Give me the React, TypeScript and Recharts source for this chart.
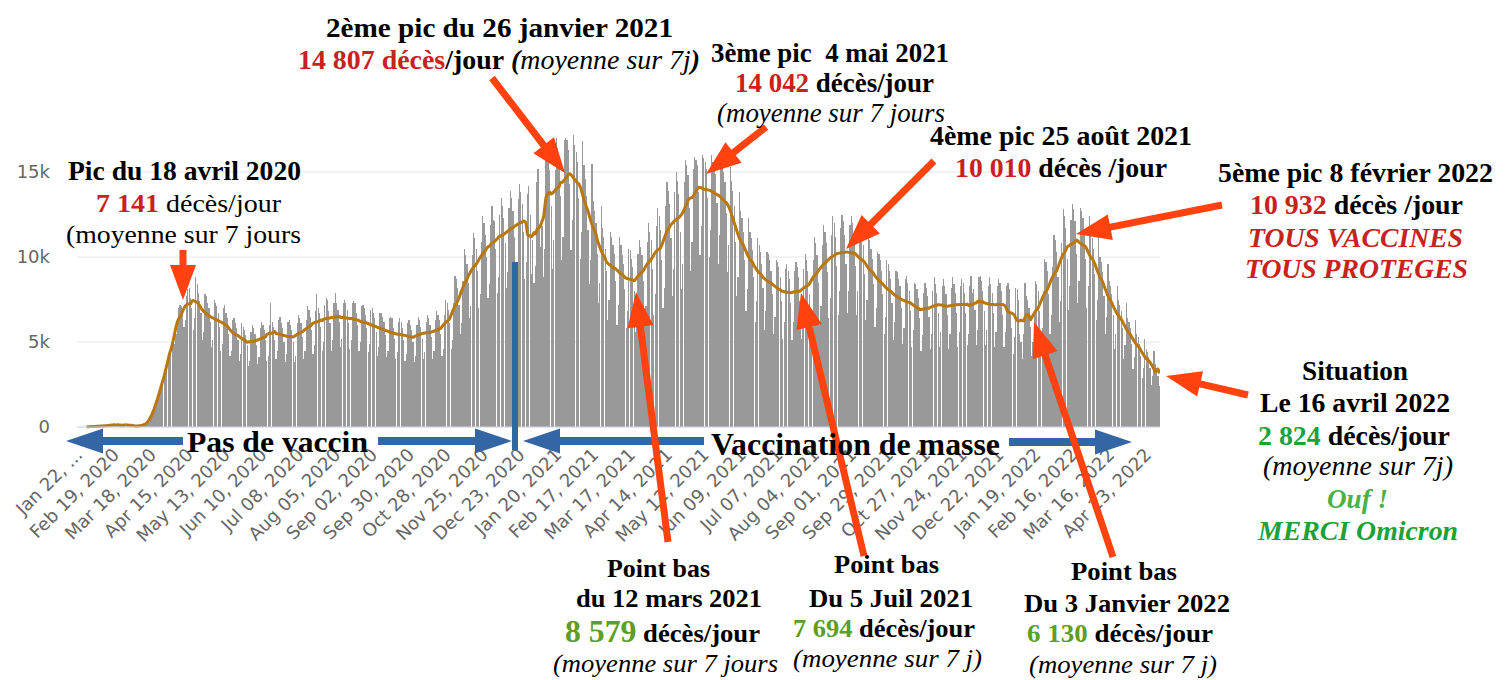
import React from 'react';
import { ComposedChart, Bar, Line, XAxis, YAxis, CartesianGrid } from 'recharts';

// daily deaths worldwide, one row per week (Wed..Tue), starting Jan 22, 2020
const deathsWave1 = [
  20, 10, 20, 20, 30, 30, 30,
  40, 40, 50, 50, 60, 60, 70,
  70, 70, 90, 90, 100, 110, 100,
  250, 20, 140, 140, 110, 100, 140,
  120, 120, 10, 200, 150, 150, 70,
  60, 40, 50, 70, 50, 70, 70,
  90, 110, 120, 150, 200, 300, 350,
  600, 800, 1000, 1200, 1400, 1600, 2000,
  2200, 2500, 2800, 3000, 3300, 3500, 3900,
  4400, 4700, 5100, 5300, 4900, 5500, 6300,
  7000, 7200, 7100, 6600, 5900, 6300, 7700,
  8100, 8200, 7600, 7000, 5700, 6400, 8800,
  8400, 7900, 7400, 6700, 5100, 5600, 7800,
  7700, 7300, 7000, 6200, 4700, 5100, 7500,
  7300, 7100, 6700, 5900, 4500, 4900, 7000,
  7200, 6700, 6400, 5500, 4200, 4500, 6300,
  6400, 6100, 5800, 5100, 3900, 4300, 6100,
  5900, 5700, 5400, 4800, 3600, 3900, 5600,
  6000, 5800, 5500, 4800, 3700, 4100, 5800,
  6200, 6000, 5700, 5100, 3900, 4200, 6000,
];

const deathsSummer2020 = [
  7300, 6200, 5900, 5100, 4000, 4500, 6300,
  6500, 6100, 5800, 5000, 3800, 4300, 6200,
  6300, 6000, 5700, 5000, 3800, 4200, 6100,
  6600, 6400, 6100, 5300, 4000, 4500, 6300,
  7100, 6900, 6500, 5700, 4300, 4800, 6800,
  7800, 7000, 6700, 5900, 4500, 5000, 7200,
  7600, 7500, 6800, 6100, 4500, 5100, 7300,
  7900, 7300, 6900, 6200, 4700, 5200, 7300,
  7500, 7300, 6900, 6100, 4600, 5100, 7300,
  7400, 7300, 6700, 6000, 4500, 5000, 7100,
  7200, 7000, 6600, 5800, 4400, 4900, 6900,
  7000, 6700, 6400, 5600, 4200, 4700, 6700,
  6700, 6500, 6200, 5400, 4100, 4500, 6400,
  6500, 6400, 5800, 5200, 4000, 4400, 6200,
  6400, 6200, 5800, 5100, 3900, 4300, 6100,
  6300, 6000, 5700, 5000, 3800, 4200, 6000,
  6500, 6300, 5900, 5200, 4000, 4400, 6200,
  6600, 6400, 6000, 5300, 4000, 4500, 6300,
  6800, 6600, 6300, 5500, 4200, 4600, 6600,
  7500, 7300, 6900, 6100, 4600, 5100, 7300,
];

const deathsWinter2021 = [
  8900, 8700, 8200, 7200, 5500, 6100, 8600,
  10500, 10100, 9600, 8500, 6400, 7100, 10100,
  11400, 11100, 10500, 9200, 7000, 7800, 10900,
  12400, 12000, 11300, 10000, 7600, 8400, 11900,
  13000, 12200, 12100, 10500, 7900, 8800, 12500,
  13500, 13000, 12300, 10800, 8200, 9100, 12900,
  13900, 13500, 12700, 11200, 8500, 9400, 13400,
  14300, 13800, 13100, 11500, 8700, 9700, 13700,
  14200, 12500, 9000, 11000, 8500, 9500, 14400,
  15200, 11900, 10600, 11800, 8800, 10500, 15900,
  16600, 15800, 15100, 13000, 9300, 11000, 15100,
  17000, 16400, 15800, 13600, 9800, 11200, 16900,
  17000, 16900, 16300, 14300, 10400, 12200, 17200,
  16600, 16200, 15600, 13500, 9900, 11500, 16800,
  15400, 14600, 13600, 11600, 8400, 9800, 15500,
  13300, 12700, 12000, 10200, 7300, 8500, 13000,
  11700, 11200, 10500, 9200, 6300, 7500, 11500,
  11200, 10700, 10200, 8600, 6000, 7200, 11200,
  10700, 10100, 9600, 8100, 5800, 6800, 10500,
  10400, 9900, 9400, 8000, 5600, 6700, 10200,
];

const deathsSpring2021 = [
  11000, 10600, 10100, 8600, 6100, 7100, 10900,
  12000, 11500, 11000, 9300, 6600, 7800, 11800,
  12900, 12400, 11600, 9800, 7000, 8200, 13000,
  14400, 13900, 13100, 11100, 7700, 9300, 13800,
  15000, 14500, 13700, 11500, 8100, 9600, 14400,
  15700, 15400, 14800, 12900, 9200, 10900, 15200,
  15900, 15700, 15400, 13800, 10100, 11800, 16000,
  15800, 15600, 15200, 13500, 10000, 11600, 16000,
  15600, 15400, 14900, 13200, 9600, 11300, 15700,
  15300, 15000, 14400, 12600, 9100, 10700, 15300,
  14500, 13900, 13000, 10900, 7700, 8800, 13800,
  12700, 12300, 11500, 9800, 6800, 8100, 12300,
  11500, 11100, 10400, 8800, 6200, 7400, 11100,
  10700, 10300, 9600, 8200, 5700, 6800, 10300,
  10200, 9800, 9200, 7800, 5500, 6500, 9800,
  9700, 9400, 8800, 7400, 5200, 6200, 9300,
  9600, 9200, 8700, 7300, 5100, 6200, 9200,
  9700, 9400, 8800, 7400, 5200, 6200, 9300,
  10200, 9800, 9200, 7800, 5500, 6500, 9800,
  11200, 10800, 10100, 8500, 6000, 7100, 10700,
];

const deathsAutumn2021 = [
  11900, 11500, 10800, 9100, 6400, 7600, 11300,
  12400, 12000, 11200, 9500, 6600, 8000, 11700,
  12500, 12100, 11300, 9600, 6700, 8000, 11900,
  12400, 12000, 11200, 9500, 6600, 8000, 11700,
  11800, 11400, 10700, 9000, 6300, 7500, 11200,
  11000, 10500, 9900, 8400, 5900, 7000, 10300,
  10200, 9800, 9200, 7800, 5500, 6500, 9800,
  9600, 9200, 8700, 7300, 5100, 6200, 9200,
  9100, 8700, 8300, 7000, 4900, 5800, 8700,
  8900, 8500, 8000, 6800, 4700, 5700, 8500,
  8400, 8100, 7600, 6400, 4500, 5400, 7900,
  8500, 8200, 7700, 6500, 4600, 5500, 8000,
  8800, 8400, 7900, 6700, 4700, 5600, 8300,
  8700, 8300, 7800, 6600, 4600, 5500, 8200,
  8800, 8400, 7900, 6700, 4700, 5600, 8300,
  8700, 8500, 7900, 6700, 4800, 5500, 8300,
  8900, 7900, 8100, 6900, 4800, 5700, 8800,
  8900, 8600, 8000, 6800, 4800, 5700, 8300,
  8800, 8400, 7900, 6700, 4700, 5600, 8300,
  8700, 8500, 8000, 6600, 4700, 5600, 8300,
];

const deathsOmicron = [
  8500, 8100, 6700, 5800, 4300, 5300, 8200,
  8100, 7500, 5500, 5000, 4000, 5500, 8500,
  7700, 7500, 7000, 5900, 4200, 5000, 6800,
  8600, 8400, 8000, 6800, 4800, 5800, 8000,
  9900, 9700, 9200, 7800, 5500, 6600, 9400,
  11300, 11000, 10300, 8800, 6200, 7400, 10800,
  12800, 12400, 11700, 9900, 6900, 8300, 12200,
  13100, 12800, 12100, 10200, 7300, 8600, 12900,
  12700, 12300, 11600, 9900, 7000, 8300, 12400,
  11600, 11100, 10500, 9000, 6300, 7500, 11200,
  10000, 9700, 9100, 7700, 5500, 6500, 9600,
  8600, 8300, 7800, 6600, 4600, 5500, 8300,
  7500, 7200, 6800, 5800, 4000, 4800, 7300,
  6400, 6200, 5800, 4900, 3400, 4100, 6300,
  5500, 5300, 4900, 4200, 2900, 3500, 5200,
  4600, 4400, 4100, 3500, 2500, 3000, 4500,
  3700, 3500, 3000, 2400,
];

// x axis labels, one every 28 days
const tickLabels = [
  'Jan 22, ...', 'Feb 19, 2020', 'Mar 18, 2020', 'Apr 15, 2020', 'May 13, 2020',
  'Jun 10, 2020', 'Jul 08, 2020', 'Aug 05, 2020', 'Sep 02, 2020', 'Sep 30, 2020',
  'Oct 28, 2020', 'Nov 25, 2020', 'Dec 23, 2020', 'Jan 20, 2021', 'Feb 17, 2021',
  'Mar 17, 2021', 'Apr 14, 2021', 'May 12, 2021', 'Jun 09, 2021', 'Jul 07, 2021',
  'Aug 04, 2021', 'Sep 01, 2021', 'Sep 29, 2021', 'Oct 27, 2021', 'Nov 24, 2021',
  'Dec 22, 2021', 'Jan 19, 2022', 'Feb 16, 2022', 'Mar 16, 2022', 'Apr 13, 2022',
];
const TICK_STEP = 28;
const yTicks = [0, 5000, 10000, 15000];

const daily = [
  ...deathsWave1, ...deathsSummer2020, ...deathsWinter2021,
  ...deathsSpring2021, ...deathsAutumn2021, ...deathsOmicron,
];

// 7 day moving average (centered)
const data = daily.map((deaths, day) => {
  const lo = Math.max(0, day - 3);
  const hi = Math.min(daily.length - 1, day + 3);
  let sum = 0;
  for (let i = lo; i <= hi; i++) sum += daily[i];
  return { day, deaths, avg: sum / (hi - lo + 1) };
});
const tickDays = tickLabels.map((_, i) => i * TICK_STEP);

const RED = '#c9211e';
const GREEN = '#1ba33a';
const LIGHT_GREEN = '#45b34a';
const LIME = '#5c9e26';
const ORANGE = '#ff420e';
const BLUE = '#3465a4';

const DateTick = ({ x, y, payload }: any) => {
  const label = tickLabels[tickDays.indexOf(payload.value)];
  const bx = x - 3;
  const by = y + 27;
  return (
    <text x={bx} y={by} transform={`rotate(-45 ${bx} ${by})`} textAnchor="end"
      fontFamily="DejaVu Sans" fontSize={18} fill="#666">
      {label}
    </text>
  );
};

type Part = { t: string; c?: string; b?: boolean; i?: boolean; s?: number };
type TextLine = { x: number; y: number; w: number; s: number; parts: Part[] };

const txt = (x: number, y: number, w: number, s: number, parts: Part[]): TextLine => ({ x, y, w, s, parts });

const lines: TextLine[] = [
  txt(68, 180, 233, 27, [{ t: 'Pic du 18 avril 2020', b: true }]),
  txt(96, 212, 185, 26, [{ t: '7 141', c: RED, b: true }, { t: ' décès/jour' }]),
  txt(66, 243, 235, 26, [{ t: '(moyenne sur 7 jours' }]),

  txt(326, 37, 347, 28, [{ t: '2ème pic du 26 janvier 2021', b: true }]),
  txt(298, 69, 402, 28, [
    { t: '14 807 décès', c: RED, b: true }, { t: '/jour', b: true }, { t: ' (', b: true, i: true },
    { t: 'moyenne sur 7j', i: true }, { t: ')', b: true, i: true },
  ]),

  txt(711, 62, 238, 27, [{ t: '3ème pic  4 mai 2021', b: true }]),
  txt(735, 92, 199, 27, [{ t: '14 042', c: RED, b: true }, { t: ' décès/jour', b: true }]),
  txt(717, 122, 228, 27, [{ t: '(moyenne sur 7 jours', i: true }]),

  txt(930, 145, 262, 28, [{ t: '4ème pic 25 août 2021', b: true }]),
  txt(955, 177, 212, 28, [{ t: '10 010', c: RED, b: true }, { t: ' décès /jour', b: true }]),

  txt(1218, 182, 275, 27, [{ t: '5ème pic 8 février 2022', b: true }]),
  txt(1250, 214, 213, 27, [{ t: '10 932', c: RED, b: true }, { t: ' décès /jour', b: true }]),
  txt(1248, 247, 215, 27, [{ t: 'TOUS VACCINES', c: RED, b: true, i: true }]),
  txt(1245, 278, 223, 27, [{ t: 'TOUS PROTEGES', c: RED, b: true, i: true }]),

  txt(1302, 380, 106, 27, [{ t: 'Situation', b: true }]),
  txt(1260, 412, 190, 27, [{ t: 'Le 16 avril 2022', b: true }]),
  txt(1258, 445, 192, 27, [{ t: '2 824', c: GREEN, b: true }, { t: ' décès/jour', b: true }]),
  txt(1263, 475, 190, 27, [{ t: '(moyenne sur 7j)', i: true }]),
  txt(1327, 508, 61, 27, [{ t: 'Ouf !', c: LIGHT_GREEN, b: true, i: true }]),
  txt(1258, 540, 200, 27, [{ t: 'MERCI Omicron', c: GREEN, b: true, i: true }]),

  txt(607, 577, 103, 26, [{ t: 'Point bas', b: true }]),
  txt(576, 607, 186, 26, [{ t: 'du 12 mars 2021', b: true }]),
  txt(565, 642, 195, 26, [{ t: '8 579', c: LIME, b: true, s: 31 }, { t: ' décès/jour', b: true }]),
  txt(553, 672, 225, 26, [{ t: '(moyenne sur 7 jours', i: true }]),

  txt(834, 573, 105, 26, [{ t: 'Point bas', b: true }]),
  txt(809, 607, 164, 26, [{ t: 'Du 5 Juil 2021', b: true }]),
  txt(793, 637, 182, 26, [{ t: '7 694', c: LIME, b: true }, { t: ' décès/jour', b: true }]),
  txt(793, 667, 189, 26, [{ t: '(moyenne sur 7 j)', i: true }]),

  txt(1071, 580, 106, 26, [{ t: 'Point bas', b: true }]),
  txt(1024, 612, 206, 26, [{ t: 'Du 3 Janvier 2022', b: true }]),
  txt(1027, 642, 186, 26, [{ t: '6 130', c: LIME, b: true }, { t: ' décès/jour', b: true }]),
  txt(1029, 673, 188, 26, [{ t: '(moyenne sur 7 j)', i: true }]),

  txt(187, 452, 181, 30, [{ t: 'Pas de vaccin', b: true }]),
  txt(711, 455, 289, 32, [{ t: 'Vaccination de masse', b: true }]),
];

// callout arrows: tail x, tail y, tip x, tip y
const orangeArrows = [
  [183, 250, 183, 300],
  [492, 78, 565, 173],
  [766, 127, 706, 174],
  [934, 161, 846, 249],
  [1222, 205, 1076, 234],
  [1248, 395, 1166, 376],
  [668, 542, 636, 292],
  [864, 556, 801, 293],
  [1113, 557, 1034, 322],
];
const blueArrows = [
  [183, 441, 66, 441],
  [378, 441, 512, 441],
  [704, 441, 523, 441],
  [1009, 442, 1132, 442],
];

function arrowPoints(x1: number, y1: number, x2: number, y2: number, w: number, hl: number, hw: number) {
  const len = Math.hypot(x2 - x1, y2 - y1);
  const ux = (x2 - x1) / len;
  const uy = (y2 - y1) / len;
  const px = -uy;
  const py = ux;
  const bx = x2 - ux * hl;
  const by = y2 - uy * hl;
  const pts = [
    [x1 + px * w / 2, y1 + py * w / 2],
    [bx + px * w / 2, by + py * w / 2],
    [bx + px * hw, by + py * hw],
    [x2, y2],
    [bx - px * hw, by - py * hw],
    [bx - px * w / 2, by - py * w / 2],
    [x1 - px * w / 2, y1 - py * w / 2],
  ];
  return pts.map((p) => p.join(',')).join(' ');
}

const Annotations = () => (
  <svg width={1509} height={680} style={{ position: 'absolute', left: 0, top: 0, pointerEvents: 'none' }}>
    <rect x={512} y={262} width={6} height={188} fill={BLUE} />
    {blueArrows.map((a, i) => (
      <polygon key={'b' + i} points={arrowPoints(a[0], a[1], a[2], a[3], 8, 37, 12.5)} fill={BLUE} />
    ))}
    {orangeArrows.map((a, i) => (
      <polygon key={'o' + i} points={arrowPoints(a[0], a[1], a[2], a[3], 7, 35, 13)} fill={ORANGE} />
    ))}
    {lines.map((l, i) => (
      <text key={'t' + i} x={l.x} y={l.y} fontSize={l.s} fontFamily="Liberation Serif"
        textLength={l.w} lengthAdjust="spacingAndGlyphs" style={{ whiteSpace: 'pre' }}>
        {l.parts.map((p, j) => (
          <tspan key={j} fill={p.c || '#000'} fontWeight={p.b ? 'bold' : 'normal'}
            fontStyle={p.i ? 'italic' : 'normal'} fontSize={p.s || l.s}>
            {p.t}
          </tspan>
        ))}
      </text>
    ))}
  </svg>
);

export default function App() {
  return (
    <div style={{ position: 'absolute', left: 0, top: 0, width: 1509, height: 680, background: '#fff' }}>
      <style>{'.recharts-bar-rectangle path { shape-rendering: crispEdges; }'}</style>
      <ComposedChart width={1509} height={680} data={data}
        margin={{ top: 121, right: 349, bottom: 223, left: 0 }}
        barCategoryGap={0} barGap={0}>
        <CartesianGrid vertical={false} stroke="#e6e6e6" horizontalValues={yTicks} />
        <XAxis type="number" dataKey="day" domain={[-7.3, 815.5]} allowDataOverflow
          ticks={tickDays} interval={0} tick={<DateTick />} tickLine={false} tickSize={0}
          axisLine={{ stroke: '#ccd6eb' }} height={30} />
        <YAxis domain={[0, 18000]} ticks={yTicks} width={77} axisLine={false} tickLine={false}
          tickSize={0} tickMargin={27}
          tickFormatter={(v: number) => (v === 0 ? '0' : v / 1000 + 'k')}
          tick={{ fill: '#666', fontSize: 18, fontFamily: 'DejaVu Sans' }} />
        <Bar dataKey="deaths" fill="#999999" barSize={1.6} isAnimationActive={false} />
        <Line dataKey="avg" type="monotone" stroke="#b9770e" strokeWidth={3} dot={false}
          isAnimationActive={false} />
      </ComposedChart>
      <Annotations />
    </div>
  );
}
